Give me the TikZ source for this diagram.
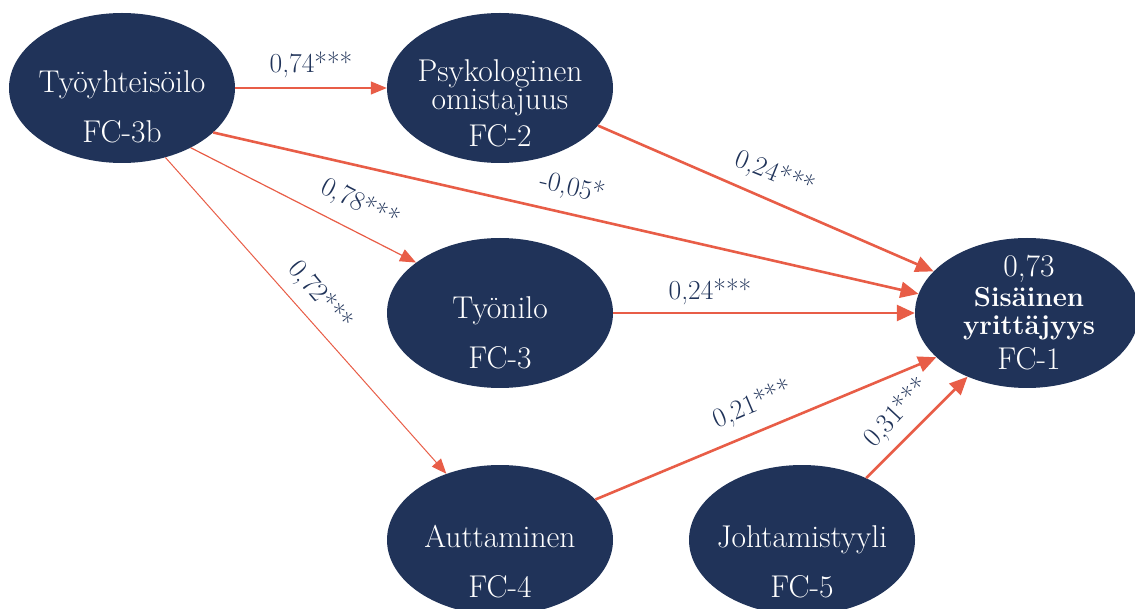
\documentclass[tikz,border=0pt]{standalone}
\usepackage{fontspec}
\usetikzlibrary{shapes.geometric,arrows.meta}
\definecolor{navy}{RGB}{32,51,89}
\definecolor{arr}{RGB}{232,93,71}
\begin{document}
\begin{tikzpicture}[x=1pt,y=-1pt,
  factor/.style={ellipse, fill=navy, draw=none, minimum width=226pt, minimum height=150pt, inner sep=0pt},
  ftext/.style={text=white, anchor=base, font=\fontsize{31.5}{36}\selectfont, inner sep=0pt},
  fbold/.style={ftext, font=\fontsize{27.5}{32}\selectfont\bfseries},
  coef/.style={text=navy, font=\fontsize{27.5}{32}\selectfont, inner sep=0pt},
  pthin/.style={draw=arr, line width=1.2pt, -{Triangle[length=16pt,width=13pt]}},
  pthinner/.style={draw=arr, line width=1pt, -{Triangle[length=15pt,width=12pt]}},
  pthick/.style={draw=arr, line width=2.6pt, -{Triangle[length=18pt,width=16pt]}},
]
\useasboundingbox (0,0) rectangle (1135,609);
% factors
\node[factor] (A) at (122,88) {};
\node[factor] (B) at (500,88) {};
\node[factor] (C) at (500,313) {};
\node[factor, minimum width=224pt] (D) at (1027,313) {};
\node[factor] (E) at (500,540) {};
\node[factor] (F) at (802,540) {};
% texts
\node[ftext] (A1) at (122,93) {Työyhteisöilo};
\node[ftext] (A2) at (122,143) {FC-3b};
\node[ftext] (B1) at (500,82) {Psykologinen};
\node[ftext] (B2) at (500,110) {omistajuus};
\node[ftext] (B3) at (500,147) {FC-2};
\node[ftext] (C1) at (500,319) {Työnilo};
\node[ftext] (C2) at (500,369) {FC-3};
\node[ftext] (D1) at (1029,277) {0,73};
\node[fbold] (D2) at (1029,307) {Sisäinen};
\node[fbold] (D3) at (1029,335) {yrittäjyys};
\node[ftext] (D4) at (1029,370) {FC-1};
\node[ftext] (E1) at (500,547) {Auttaminen};
\node[ftext] (E2) at (500,597) {FC-4};
\node[ftext] (F1) at (802,547) {Johtamistyyli};
\node[ftext] (F2) at (802,597) {FC-5};
% paths
\draw[pthin] (A.0) -- (B.180);
\draw[pthick] (A.-26.3) -- (D.170.6);
\draw[pthick] (B.-21.9) -- (D.156.4);
\draw[pthick] (C.0) -- (D.180);
\draw[pthin] (A.-41) -- (C.149);
\draw[pthinner] (A.-58.5) -- (E.129.6);
\draw[pthick] (E.23.4) -- (D.206.8);
\draw[pthick] (F.44) -- (D.227.3);
% coefficients
\node[coef] (l1) at (311,65) {0,74***};
\node[coef, rotate=-13] (l2) at (572,188) {-0,05*};
\node[coef, rotate=-22] (l3) at (775,174) {0,24***};
\node[coef] (l4) at (710,292) {0,24***};
\node[coef, rotate=-27] (l5) at (360,204) {0,78***};
\node[coef, rotate=-50] (l6) at (320,296) {0,72***};
\node[coef, rotate=23] (l7) at (753,405) {0,21***};
\node[coef, rotate=47] (l8) at (897,413) {0,31***};
\end{tikzpicture}
\end{document}
